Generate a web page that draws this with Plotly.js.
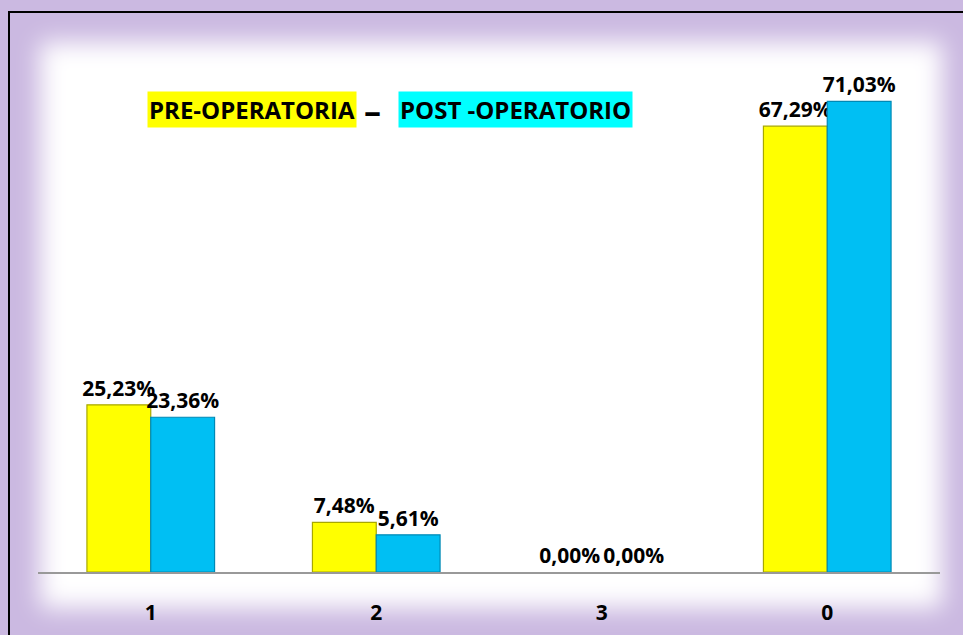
<!DOCTYPE html>
<html>
<head>
<meta charset="utf-8">
<script src="https://cdn.plot.ly/plotly-3.0.1.min.js"></script>
<style>
  html, body { margin:0; padding:0; width:963px; height:635px; overflow:hidden; background:#CBB9E1; }
  #frame { position:absolute; left:8px; top:11px; width:960px; height:630px; border-top:2px solid #000; border-left:2px solid #000; }
  #glow { position:absolute; left:40px; top:42px; width:902px; height:566px; background:#fff; filter:blur(12px); }
  #chart { position:absolute; left:0; top:0; width:963px; height:635px; }
</style>
</head>
<body>
<div id="frame"></div>
<div id="glow"></div>
<div id="chart"></div>
<script>
const categories = ["1", "2", "3", "0"];
const preValues = [25.23, 7.48, 0.00, 67.29];
const postValues = [23.36, 5.61, 0.00, 71.03];
const preName = "PRE-OPERATORIA";
const postName = "POST -OPERATORIO";

function fmt(v) { return v.toFixed(2).replace('.', ',') + '%'; }
function lineW(vals) { return vals.map(v => v > 0 ? 1.2 : 0); }

const labelFont = { family: "Open Sans, sans-serif", size: 21, color: "#000", weight: "bold" };

const traces = [
  {
    type: "bar", name: preName, x: categories, y: preValues,
    text: preValues.map(fmt), textposition: "outside", cliponaxis: false, constraintext: "none",
    textfont: labelFont,
    marker: { color: "#FFFF00", line: { color: "#A8A800", width: lineW(preValues) } }
  },
  {
    type: "bar", name: postName, x: categories, y: postValues,
    text: postValues.map(fmt), textposition: "outside", cliponaxis: false, constraintext: "none",
    textfont: labelFont,
    marker: { color: "#00BFF3", line: { color: "#0089B5", width: lineW(postValues) } }
  }
];

const titleFont = { family: "Open Sans, sans-serif", size: 24, color: "#000", weight: "bold" };

const layout = {
  width: 963, height: 635,
  margin: { l: 38, r: 23, t: 42, b: 63 },
  paper_bgcolor: "rgba(0,0,0,0)",
  plot_bgcolor: "rgba(0,0,0,0)",
  showlegend: false,
  barmode: "group",
  bargap: 0.434,
  bargroupgap: 0,
  xaxis: {
    type: "category",
    showline: true, linecolor: "#999999", linewidth: 2,
    showgrid: false, zeroline: false, ticks: "",
    ticklabelstandoff: 21,
    tickfont: { family: "Open Sans, sans-serif", size: 21, color: "#000", weight: "bold" }
  },
  yaxis: {
    range: [0, 80], visible: false, showgrid: false, zeroline: false
  },
  annotations: [
    { xref: "paper", yref: "paper", x: 0.237, y: 0.872, xanchor: "center", yanchor: "middle",
      text: preName, showarrow: false, bgcolor: "#FFFF00", borderpad: 1,
      font: titleFont },
    { xref: "paper", yref: "paper", x: 0.371, y: 0.872, xanchor: "center", yanchor: "middle",
      text: "–", showarrow: false,
      font: { family: "Open Sans, sans-serif", size: 34, color: "#000", weight: "bold" } },
    { xref: "paper", yref: "paper", x: 0.529, y: 0.872, xanchor: "center", yanchor: "middle",
      text: postName, showarrow: false, bgcolor: "#00FFFF", borderpad: 1,
      font: titleFont }
  ]
};

Plotly.newPlot("chart", traces, layout, { displayModeBar: false, staticPlot: true });
</script>
</body>
</html>
